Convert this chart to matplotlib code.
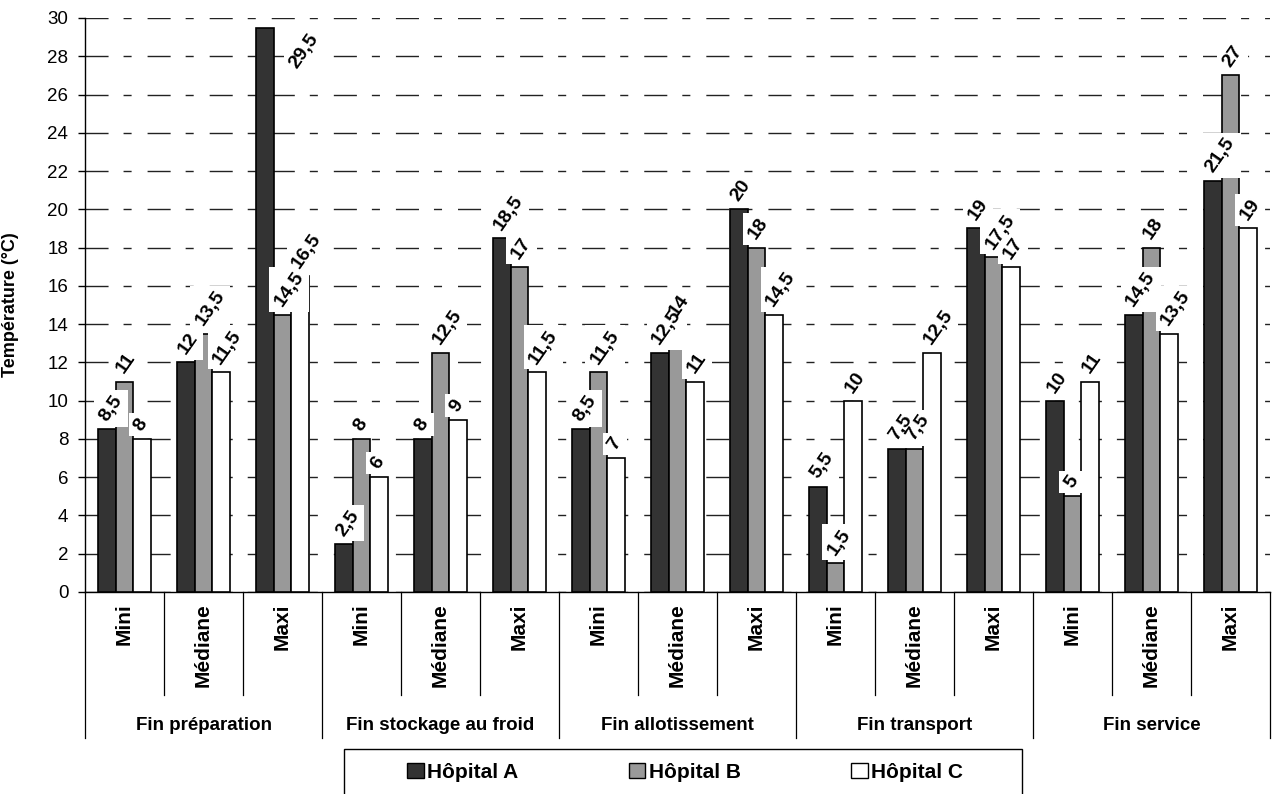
import matplotlib
matplotlib.use('Agg')
import matplotlib.pyplot as plt
import numpy as np
from matplotlib.patches import Patch, Rectangle
from matplotlib.transforms import IdentityTransform

plt.rcParams['font.family'] = ['Liberation Sans', 'DejaVu Sans']

# data
groups = ['Fin préparation', 'Fin stockage au froid', 'Fin allotissement',
          'Fin transport', 'Fin service']
stats = ['Mini', 'Médiane', 'Maxi']
series = ['Hôpital A', 'Hôpital B', 'Hôpital C']
hop_a = [8.5, 12, 29.5, 2.5, 8, 18.5, 8.5, 12.5, 20, 5.5, 7.5, 19, 10, 14.5, 21.5]
hop_b = [11, 13.5, 14.5, 8, 12.5, 17, 11.5, 14, 18, 1.5, 7.5, 17.5, 5, 18, 27]
hop_c = [8, 11.5, 16.5, 6, 9, 11.5, 7, 11, 14.5, 10, 12.5, 17, 11, 13.5, 19]
colors = ['#333333', '#999999', '#ffffff']

W, H = 1277, 794
fig = plt.figure(figsize=(W / 100, H / 100), dpi=100)
ax = fig.add_axes([85 / W, (H - 592) / H, 1185 / W, 574 / H])

x = np.arange(len(groups) * len(stats))
w = 0.22
texts = []
for i, (vals, col) in enumerate(zip([hop_a, hop_b, hop_c], colors)):
    xs = x + (i - 1) * w
    ax.bar(xs, vals, w, color=col, edgecolor='black', linewidth=1.2, zorder=3)
    for xi, v in zip(xs, vals):
        off = (-3, 7) if v < 28 else (20, -28)
        t = ax.annotate(f'{v:g}'.replace('.', ','), (xi, v), xytext=off,
                        textcoords='offset points', rotation=55,
                        rotation_mode='anchor', ha='left', va='center',
                        fontsize=14, fontweight='bold', zorder=6,
                        annotation_clip=False)
        texts.append(t)

ax.set_xlim(-0.5, len(x) - 0.5)
ax.set_ylim(0, 30)
ax.set_yticks(np.arange(0, 31, 2))
ax.tick_params(axis='y', direction='out', length=5, width=1, pad=7, labelsize=13.5)
ax.set_xticks([])
ax.yaxis.grid(True, color='#222222', linewidth=1, linestyle=(0, (16.6, 10.8, 5.8, 11.5)))
ax.set_axisbelow(True)
for s in ['top', 'right']:
    ax.spines[s].set_visible(False)
for s in ['left', 'bottom']:
    ax.spines[s].set_linewidth(1)

ax.set_ylabel('Température (°C)', fontsize=13, fontweight='bold')
ax.yaxis.set_label_coords(-0.056, 0.5)

# two-level category axis
tr = ax.get_xaxis_transform()
for k in x:
    ax.text(k, -0.02, stats[k % 3], transform=tr, rotation=90, ha='center',
            va='top', fontsize=15, fontweight='bold')
for g, name in enumerate(groups):
    ax.text(3 * g + 1, -0.233, name, transform=tr, ha='center', va='center',
            fontsize=13.5, fontweight='bold')
for b in np.arange(-0.5, len(x), 1):
    low = -0.255 if (b + 0.5) % 3 == 0 else -0.179
    ax.plot([b, b], [0, low], transform=tr, color='black', lw=0.9, clip_on=False)

# legend with its own frame
handles = [Patch(facecolor=c, edgecolor='black', linewidth=1) for c in colors]
fig.legend(handles, series, loc='center', bbox_to_anchor=(685 / W, 1 - 772 / H),
           ncol=3, frameon=False, prop={'size': 15, 'weight': 'bold'},
           handlelength=0.8, handleheight=0.75, handletextpad=0.15,
           columnspacing=5.3)
fig.add_artist(Rectangle((344 / W, -0.01), 678 / W, (H - 749) / H + 0.01,
                         transform=fig.transFigure, fill=False,
                         edgecolor='black', linewidth=1))

# white boxes behind the value labels, aligned with the axes
fig.canvas.draw()
rend = fig.canvas.get_renderer()
for t in texts:
    bb = t.get_window_extent(rend)
    ax.add_artist(Rectangle((bb.x0 - 2, bb.y0 - 2), bb.width + 4, bb.height + 4,
                            transform=IdentityTransform(), facecolor='white',
                            edgecolor='none', zorder=5, clip_on=False))

fig.savefig('out.png', dpi=100)
